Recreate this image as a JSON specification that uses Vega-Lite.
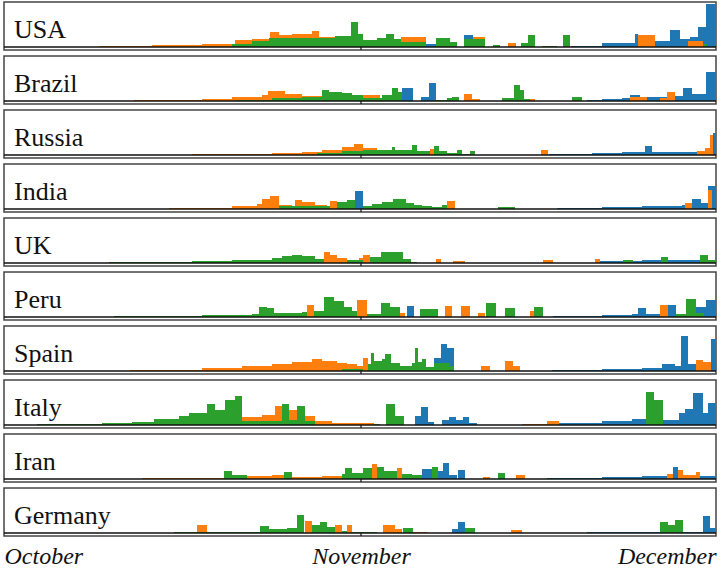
{
  "$schema": "https://vega.github.io/schema/vega-lite/v6.json",
  "padding": {"left": 2, "top": 1, "right": 6, "bottom": 0},
  "background": "white",
  "data": {"values": [
    {"c":"USA","s":"b","a":424,"b":434,"v":3},{"c":"USA","s":"b","a":462,"b":471,"v":12},{"c":"USA","s":"b","a":569,"b":600,"v":1},{"c":"USA","s":"b","a":600,"b":633,"v":4},{"c":"USA","s":"b","a":633,"b":636,"v":13},{"c":"USA","s":"b","a":653,"b":668,"v":6},{"c":"USA","s":"b","a":668,"b":678,"v":17},{"c":"USA","s":"b","a":678,"b":688,"v":8},{"c":"USA","s":"b","a":688,"b":696,"v":10},{"c":"USA","s":"b","a":696,"b":704,"v":20},{"c":"USA","s":"b","a":704,"b":714,"v":43},
    {"c":"USA","s":"o","a":97,"b":150,"v":1},{"c":"USA","s":"o","a":150,"b":200,"v":2},{"c":"USA","s":"o","a":200,"b":233,"v":3},{"c":"USA","s":"o","a":233,"b":250,"v":7},{"c":"USA","s":"o","a":250,"b":268,"v":8},{"c":"USA","s":"o","a":268,"b":277,"v":15},{"c":"USA","s":"o","a":277,"b":290,"v":12},{"c":"USA","s":"o","a":290,"b":310,"v":13},{"c":"USA","s":"o","a":310,"b":317,"v":16},{"c":"USA","s":"o","a":317,"b":333,"v":10},{"c":"USA","s":"o","a":399,"b":424,"v":10},{"c":"USA","s":"o","a":471,"b":483,"v":10},{"c":"USA","s":"o","a":506,"b":514,"v":4},{"c":"USA","s":"o","a":636,"b":653,"v":12},{"c":"USA","s":"o","a":686,"b":701,"v":6},
    {"c":"USA","s":"g","a":230,"b":250,"v":3},{"c":"USA","s":"g","a":250,"b":267,"v":6},{"c":"USA","s":"g","a":267,"b":300,"v":9},{"c":"USA","s":"g","a":300,"b":333,"v":9},{"c":"USA","s":"g","a":333,"b":349,"v":11},{"c":"USA","s":"g","a":349,"b":356,"v":25},{"c":"USA","s":"g","a":356,"b":361,"v":13},{"c":"USA","s":"g","a":361,"b":375,"v":7},{"c":"USA","s":"g","a":375,"b":384,"v":9},{"c":"USA","s":"g","a":384,"b":392,"v":13},{"c":"USA","s":"g","a":392,"b":399,"v":8},{"c":"USA","s":"g","a":399,"b":424,"v":5},{"c":"USA","s":"g","a":434,"b":448,"v":9},{"c":"USA","s":"g","a":448,"b":455,"v":5},{"c":"USA","s":"g","a":462,"b":483,"v":8},{"c":"USA","s":"g","a":491,"b":498,"v":2},{"c":"USA","s":"g","a":519,"b":526,"v":4},{"c":"USA","s":"g","a":526,"b":533,"v":12},{"c":"USA","s":"g","a":540,"b":555,"v":1},{"c":"USA","s":"g","a":561,"b":568,"v":12},{"c":"USA","s":"g","a":701,"b":705,"v":3},

    {"c":"Brazil","s":"b","a":400,"b":411,"v":13},{"c":"Brazil","s":"b","a":419,"b":427,"v":4},{"c":"Brazil","s":"b","a":427,"b":434,"v":18},{"c":"Brazil","s":"b","a":585,"b":600,"v":1},{"c":"Brazil","s":"b","a":600,"b":620,"v":2},{"c":"Brazil","s":"b","a":620,"b":628,"v":3},{"c":"Brazil","s":"b","a":628,"b":638,"v":6},{"c":"Brazil","s":"b","a":643,"b":665,"v":4},{"c":"Brazil","s":"b","a":673,"b":681,"v":5},{"c":"Brazil","s":"b","a":681,"b":690,"v":13},{"c":"Brazil","s":"b","a":690,"b":704,"v":7},{"c":"Brazil","s":"b","a":704,"b":714,"v":29},
    {"c":"Brazil","s":"o","a":132,"b":200,"v":1},{"c":"Brazil","s":"o","a":200,"b":230,"v":2},{"c":"Brazil","s":"o","a":230,"b":260,"v":4},{"c":"Brazil","s":"o","a":260,"b":266,"v":6},{"c":"Brazil","s":"o","a":266,"b":283,"v":10},{"c":"Brazil","s":"o","a":283,"b":300,"v":7},{"c":"Brazil","s":"o","a":300,"b":330,"v":5},{"c":"Brazil","s":"o","a":330,"b":361,"v":4},{"c":"Brazil","s":"o","a":361,"b":378,"v":6},{"c":"Brazil","s":"o","a":394,"b":400,"v":8},{"c":"Brazil","s":"o","a":462,"b":470,"v":7},{"c":"Brazil","s":"o","a":470,"b":478,"v":2},{"c":"Brazil","s":"o","a":528,"b":533,"v":2},{"c":"Brazil","s":"o","a":628,"b":645,"v":4},{"c":"Brazil","s":"o","a":658,"b":665,"v":3},{"c":"Brazil","s":"o","a":665,"b":673,"v":9},
    {"c":"Brazil","s":"g","a":233,"b":270,"v":1},{"c":"Brazil","s":"g","a":270,"b":300,"v":3},{"c":"Brazil","s":"g","a":300,"b":320,"v":4},{"c":"Brazil","s":"g","a":320,"b":327,"v":11},{"c":"Brazil","s":"g","a":327,"b":340,"v":9},{"c":"Brazil","s":"g","a":340,"b":350,"v":8},{"c":"Brazil","s":"g","a":350,"b":361,"v":6},{"c":"Brazil","s":"g","a":361,"b":380,"v":3},{"c":"Brazil","s":"g","a":380,"b":390,"v":6},{"c":"Brazil","s":"g","a":390,"b":396,"v":13},{"c":"Brazil","s":"g","a":396,"b":400,"v":9},{"c":"Brazil","s":"g","a":434,"b":445,"v":1},{"c":"Brazil","s":"g","a":445,"b":450,"v":3},{"c":"Brazil","s":"g","a":450,"b":457,"v":4},{"c":"Brazil","s":"g","a":500,"b":512,"v":3},{"c":"Brazil","s":"g","a":512,"b":518,"v":16},{"c":"Brazil","s":"g","a":518,"b":522,"v":11},{"c":"Brazil","s":"g","a":522,"b":528,"v":2},{"c":"Brazil","s":"g","a":570,"b":580,"v":4},

    {"c":"Russia","s":"b","a":547,"b":590,"v":1},{"c":"Russia","s":"b","a":590,"b":620,"v":2},{"c":"Russia","s":"b","a":620,"b":643,"v":3},{"c":"Russia","s":"b","a":643,"b":650,"v":9},{"c":"Russia","s":"b","a":650,"b":711,"v":3},{"c":"Russia","s":"b","a":711,"b":714,"v":22},
    {"c":"Russia","s":"o","a":190,"b":270,"v":1},{"c":"Russia","s":"o","a":270,"b":300,"v":2},{"c":"Russia","s":"o","a":300,"b":320,"v":3},{"c":"Russia","s":"o","a":320,"b":340,"v":5},{"c":"Russia","s":"o","a":340,"b":352,"v":8},{"c":"Russia","s":"o","a":352,"b":361,"v":11},{"c":"Russia","s":"o","a":361,"b":375,"v":7},{"c":"Russia","s":"o","a":428,"b":432,"v":6},{"c":"Russia","s":"o","a":539,"b":546,"v":5},{"c":"Russia","s":"o","a":695,"b":703,"v":4},{"c":"Russia","s":"o","a":703,"b":708,"v":7},{"c":"Russia","s":"o","a":708,"b":711,"v":20},
    {"c":"Russia","s":"g","a":315,"b":340,"v":2},{"c":"Russia","s":"g","a":340,"b":361,"v":4},{"c":"Russia","s":"g","a":361,"b":390,"v":5},{"c":"Russia","s":"g","a":390,"b":393,"v":8},{"c":"Russia","s":"g","a":393,"b":410,"v":5},{"c":"Russia","s":"g","a":410,"b":415,"v":10},{"c":"Russia","s":"g","a":415,"b":428,"v":4},{"c":"Russia","s":"g","a":432,"b":437,"v":9},{"c":"Russia","s":"g","a":437,"b":445,"v":4},{"c":"Russia","s":"g","a":445,"b":455,"v":2},{"c":"Russia","s":"g","a":455,"b":460,"v":5},{"c":"Russia","s":"g","a":460,"b":468,"v":1},{"c":"Russia","s":"g","a":468,"b":473,"v":4},

    {"c":"India","s":"b","a":353,"b":361,"v":18},{"c":"India","s":"b","a":555,"b":600,"v":1},{"c":"India","s":"b","a":600,"b":640,"v":2},{"c":"India","s":"b","a":640,"b":680,"v":3},{"c":"India","s":"b","a":680,"b":690,"v":4},{"c":"India","s":"b","a":690,"b":699,"v":10},{"c":"India","s":"b","a":699,"b":706,"v":6},{"c":"India","s":"b","a":706,"b":714,"v":23},
    {"c":"India","s":"o","a":167,"b":230,"v":1},{"c":"India","s":"o","a":230,"b":255,"v":3},{"c":"India","s":"o","a":255,"b":260,"v":5},{"c":"India","s":"o","a":260,"b":268,"v":10},{"c":"India","s":"o","a":268,"b":277,"v":13},{"c":"India","s":"o","a":277,"b":290,"v":4},{"c":"India","s":"o","a":293,"b":300,"v":9},{"c":"India","s":"o","a":300,"b":313,"v":7},{"c":"India","s":"o","a":313,"b":325,"v":4},{"c":"India","s":"o","a":328,"b":335,"v":8},{"c":"India","s":"o","a":445,"b":453,"v":8},{"c":"India","s":"o","a":683,"b":690,"v":6},{"c":"India","s":"o","a":706,"b":710,"v":19},
    {"c":"India","s":"g","a":277,"b":300,"v":3},{"c":"India","s":"g","a":300,"b":328,"v":3},{"c":"India","s":"g","a":335,"b":345,"v":7},{"c":"India","s":"g","a":345,"b":353,"v":9},{"c":"India","s":"g","a":361,"b":370,"v":3},{"c":"India","s":"g","a":370,"b":380,"v":5},{"c":"India","s":"g","a":380,"b":391,"v":7},{"c":"India","s":"g","a":391,"b":404,"v":10},{"c":"India","s":"g","a":404,"b":412,"v":6},{"c":"India","s":"g","a":412,"b":420,"v":4},{"c":"India","s":"g","a":420,"b":430,"v":3},{"c":"India","s":"g","a":430,"b":440,"v":2},{"c":"India","s":"g","a":440,"b":445,"v":4},{"c":"India","s":"g","a":496,"b":513,"v":2},

    {"c":"UK","s":"b","a":598,"b":640,"v":2},{"c":"UK","s":"b","a":640,"b":660,"v":3},{"c":"UK","s":"b","a":666,"b":698,"v":3},{"c":"UK","s":"b","a":706,"b":714,"v":2},
    {"c":"UK","s":"o","a":322,"b":328,"v":11},{"c":"UK","s":"o","a":328,"b":335,"v":8},{"c":"UK","s":"o","a":335,"b":345,"v":5},{"c":"UK","s":"o","a":357,"b":361,"v":5},{"c":"UK","s":"o","a":361,"b":368,"v":8},{"c":"UK","s":"o","a":434,"b":439,"v":4},{"c":"UK","s":"o","a":451,"b":463,"v":2},{"c":"UK","s":"o","a":541,"b":551,"v":3},{"c":"UK","s":"o","a":593,"b":598,"v":4},
    {"c":"UK","s":"g","a":107,"b":190,"v":1},{"c":"UK","s":"g","a":190,"b":230,"v":2},{"c":"UK","s":"g","a":230,"b":270,"v":3},{"c":"UK","s":"g","a":270,"b":280,"v":5},{"c":"UK","s":"g","a":280,"b":290,"v":7},{"c":"UK","s":"g","a":290,"b":300,"v":8},{"c":"UK","s":"g","a":300,"b":313,"v":7},{"c":"UK","s":"g","a":313,"b":322,"v":4},{"c":"UK","s":"g","a":345,"b":361,"v":3},{"c":"UK","s":"g","a":368,"b":379,"v":6},{"c":"UK","s":"g","a":379,"b":401,"v":11},{"c":"UK","s":"g","a":401,"b":409,"v":4},{"c":"UK","s":"g","a":409,"b":415,"v":1},{"c":"UK","s":"g","a":621,"b":631,"v":3},{"c":"UK","s":"g","a":659,"b":666,"v":6},{"c":"UK","s":"g","a":698,"b":706,"v":8},{"c":"UK","s":"g","a":706,"b":714,"v":3},

    {"c":"Peru","s":"b","a":405,"b":412,"v":11},{"c":"Peru","s":"b","a":551,"b":600,"v":1},{"c":"Peru","s":"b","a":600,"b":630,"v":2},{"c":"Peru","s":"b","a":630,"b":636,"v":3},{"c":"Peru","s":"b","a":636,"b":644,"v":9},{"c":"Peru","s":"b","a":644,"b":658,"v":3},{"c":"Peru","s":"b","a":666,"b":674,"v":12},{"c":"Peru","s":"b","a":674,"b":694,"v":3},{"c":"Peru","s":"b","a":694,"b":704,"v":10},{"c":"Peru","s":"b","a":704,"b":714,"v":17},
    {"c":"Peru","s":"o","a":305,"b":312,"v":12},{"c":"Peru","s":"o","a":355,"b":365,"v":17},{"c":"Peru","s":"o","a":398,"b":403,"v":4},{"c":"Peru","s":"o","a":443,"b":450,"v":11},{"c":"Peru","s":"o","a":459,"b":468,"v":11},{"c":"Peru","s":"o","a":476,"b":483,"v":4},{"c":"Peru","s":"o","a":528,"b":532,"v":6},{"c":"Peru","s":"o","a":658,"b":666,"v":12},
    {"c":"Peru","s":"g","a":112,"b":200,"v":1},{"c":"Peru","s":"g","a":200,"b":250,"v":2},{"c":"Peru","s":"g","a":250,"b":257,"v":3},{"c":"Peru","s":"g","a":257,"b":265,"v":10},{"c":"Peru","s":"g","a":265,"b":272,"v":9},{"c":"Peru","s":"g","a":272,"b":300,"v":4},{"c":"Peru","s":"g","a":300,"b":305,"v":5},{"c":"Peru","s":"g","a":312,"b":322,"v":6},{"c":"Peru","s":"g","a":322,"b":332,"v":20},{"c":"Peru","s":"g","a":332,"b":342,"v":16},{"c":"Peru","s":"g","a":342,"b":350,"v":10},{"c":"Peru","s":"g","a":350,"b":355,"v":6},{"c":"Peru","s":"g","a":365,"b":379,"v":3},{"c":"Peru","s":"g","a":379,"b":388,"v":14},{"c":"Peru","s":"g","a":388,"b":398,"v":10},{"c":"Peru","s":"g","a":418,"b":436,"v":8},{"c":"Peru","s":"g","a":484,"b":494,"v":14},{"c":"Peru","s":"g","a":503,"b":513,"v":9},{"c":"Peru","s":"g","a":532,"b":541,"v":10},{"c":"Peru","s":"g","a":674,"b":684,"v":3},{"c":"Peru","s":"g","a":684,"b":694,"v":18},{"c":"Peru","s":"g","a":694,"b":702,"v":4},

    {"c":"Spain","s":"b","a":432,"b":439,"v":13},{"c":"Spain","s":"b","a":439,"b":445,"v":27},{"c":"Spain","s":"b","a":445,"b":452,"v":23},{"c":"Spain","s":"b","a":550,"b":600,"v":1},{"c":"Spain","s":"b","a":600,"b":640,"v":2},{"c":"Spain","s":"b","a":640,"b":660,"v":3},{"c":"Spain","s":"b","a":660,"b":673,"v":7},{"c":"Spain","s":"b","a":673,"b":679,"v":5},{"c":"Spain","s":"b","a":679,"b":686,"v":35},{"c":"Spain","s":"b","a":686,"b":694,"v":7},{"c":"Spain","s":"b","a":709,"b":714,"v":32},
    {"c":"Spain","s":"o","a":128,"b":200,"v":1},{"c":"Spain","s":"o","a":200,"b":240,"v":3},{"c":"Spain","s":"o","a":240,"b":270,"v":5},{"c":"Spain","s":"o","a":270,"b":290,"v":7},{"c":"Spain","s":"o","a":290,"b":310,"v":9},{"c":"Spain","s":"o","a":310,"b":320,"v":12},{"c":"Spain","s":"o","a":320,"b":335,"v":10},{"c":"Spain","s":"o","a":335,"b":345,"v":8},{"c":"Spain","s":"o","a":345,"b":355,"v":7},{"c":"Spain","s":"o","a":355,"b":361,"v":5},{"c":"Spain","s":"o","a":361,"b":366,"v":13},{"c":"Spain","s":"o","a":479,"b":488,"v":5},{"c":"Spain","s":"o","a":503,"b":511,"v":10},{"c":"Spain","s":"o","a":511,"b":518,"v":5},{"c":"Spain","s":"o","a":694,"b":701,"v":11},{"c":"Spain","s":"o","a":701,"b":709,"v":9},
    {"c":"Spain","s":"g","a":340,"b":361,"v":2},{"c":"Spain","s":"g","a":366,"b":369,"v":7},{"c":"Spain","s":"g","a":369,"b":372,"v":18},{"c":"Spain","s":"g","a":372,"b":380,"v":10},{"c":"Spain","s":"g","a":380,"b":383,"v":12},{"c":"Spain","s":"g","a":383,"b":389,"v":17},{"c":"Spain","s":"g","a":389,"b":398,"v":8},{"c":"Spain","s":"g","a":398,"b":410,"v":5},{"c":"Spain","s":"g","a":410,"b":413,"v":8},{"c":"Spain","s":"g","a":413,"b":416,"v":23},{"c":"Spain","s":"g","a":416,"b":420,"v":9},{"c":"Spain","s":"g","a":420,"b":424,"v":12},{"c":"Spain","s":"g","a":424,"b":432,"v":4},{"c":"Spain","s":"g","a":432,"b":448,"v":8},{"c":"Spain","s":"g","a":448,"b":452,"v":5},

    {"c":"Italy","s":"b","a":413,"b":419,"v":9},{"c":"Italy","s":"b","a":419,"b":426,"v":18},{"c":"Italy","s":"b","a":426,"b":432,"v":3},{"c":"Italy","s":"b","a":440,"b":447,"v":5},{"c":"Italy","s":"b","a":447,"b":454,"v":8},{"c":"Italy","s":"b","a":454,"b":461,"v":5},{"c":"Italy","s":"b","a":461,"b":467,"v":8},{"c":"Italy","s":"b","a":467,"b":475,"v":2},{"c":"Italy","s":"b","a":557,"b":600,"v":2},{"c":"Italy","s":"b","a":600,"b":630,"v":4},{"c":"Italy","s":"b","a":630,"b":644,"v":6},{"c":"Italy","s":"b","a":644,"b":661,"v":8},{"c":"Italy","s":"b","a":661,"b":677,"v":5},{"c":"Italy","s":"b","a":677,"b":683,"v":12},{"c":"Italy","s":"b","a":683,"b":691,"v":16},{"c":"Italy","s":"b","a":691,"b":701,"v":32},{"c":"Italy","s":"b","a":701,"b":706,"v":12},{"c":"Italy","s":"b","a":706,"b":714,"v":22},
    {"c":"Italy","s":"o","a":240,"b":260,"v":8},{"c":"Italy","s":"o","a":260,"b":273,"v":10},{"c":"Italy","s":"o","a":273,"b":287,"v":19},{"c":"Italy","s":"o","a":287,"b":295,"v":15},{"c":"Italy","s":"o","a":303,"b":313,"v":9},{"c":"Italy","s":"o","a":313,"b":330,"v":4},{"c":"Italy","s":"o","a":330,"b":361,"v":2},{"c":"Italy","s":"o","a":361,"b":372,"v":2},{"c":"Italy","s":"o","a":520,"b":545,"v":1},{"c":"Italy","s":"o","a":545,"b":557,"v":4},
    {"c":"Italy","s":"g","a":35,"b":100,"v":1},{"c":"Italy","s":"g","a":100,"b":130,"v":2},{"c":"Italy","s":"g","a":130,"b":152,"v":3},{"c":"Italy","s":"g","a":152,"b":177,"v":6},{"c":"Italy","s":"g","a":177,"b":187,"v":9},{"c":"Italy","s":"g","a":187,"b":205,"v":12},{"c":"Italy","s":"g","a":205,"b":213,"v":21},{"c":"Italy","s":"g","a":213,"b":223,"v":15},{"c":"Italy","s":"g","a":223,"b":233,"v":25},{"c":"Italy","s":"g","a":233,"b":240,"v":29},{"c":"Italy","s":"g","a":240,"b":280,"v":4},{"c":"Italy","s":"g","a":280,"b":287,"v":21},{"c":"Italy","s":"g","a":287,"b":295,"v":5},{"c":"Italy","s":"g","a":295,"b":303,"v":19},{"c":"Italy","s":"g","a":303,"b":313,"v":4},{"c":"Italy","s":"g","a":372,"b":378,"v":1},{"c":"Italy","s":"g","a":384,"b":393,"v":21},{"c":"Italy","s":"g","a":393,"b":402,"v":9},{"c":"Italy","s":"g","a":644,"b":652,"v":33},{"c":"Italy","s":"g","a":652,"b":661,"v":25},

    {"c":"Iran","s":"b","a":420,"b":430,"v":10},{"c":"Iran","s":"b","a":436,"b":441,"v":8},{"c":"Iran","s":"b","a":441,"b":447,"v":16},{"c":"Iran","s":"b","a":447,"b":455,"v":4},{"c":"Iran","s":"b","a":456,"b":463,"v":9},{"c":"Iran","s":"b","a":545,"b":600,"v":1},{"c":"Iran","s":"b","a":600,"b":640,"v":2},{"c":"Iran","s":"b","a":640,"b":671,"v":3},{"c":"Iran","s":"b","a":671,"b":676,"v":12},{"c":"Iran","s":"b","a":698,"b":714,"v":3},
    {"c":"Iran","s":"o","a":140,"b":222,"v":1},{"c":"Iran","s":"o","a":245,"b":270,"v":3},{"c":"Iran","s":"o","a":270,"b":282,"v":4},{"c":"Iran","s":"o","a":290,"b":320,"v":2},{"c":"Iran","s":"o","a":320,"b":340,"v":3},{"c":"Iran","s":"o","a":370,"b":375,"v":15},{"c":"Iran","s":"o","a":395,"b":400,"v":11},{"c":"Iran","s":"o","a":481,"b":488,"v":2},{"c":"Iran","s":"o","a":514,"b":523,"v":4},{"c":"Iran","s":"o","a":665,"b":671,"v":5},{"c":"Iran","s":"o","a":676,"b":681,"v":9},{"c":"Iran","s":"o","a":681,"b":694,"v":4},{"c":"Iran","s":"o","a":694,"b":698,"v":7},
    {"c":"Iran","s":"g","a":222,"b":230,"v":8},{"c":"Iran","s":"g","a":230,"b":245,"v":4},{"c":"Iran","s":"g","a":282,"b":290,"v":7},{"c":"Iran","s":"g","a":340,"b":343,"v":5},{"c":"Iran","s":"g","a":343,"b":350,"v":11},{"c":"Iran","s":"g","a":350,"b":361,"v":6},{"c":"Iran","s":"g","a":361,"b":370,"v":11},{"c":"Iran","s":"g","a":375,"b":382,"v":12},{"c":"Iran","s":"g","a":382,"b":395,"v":8},{"c":"Iran","s":"g","a":400,"b":410,"v":5},{"c":"Iran","s":"g","a":410,"b":420,"v":4},{"c":"Iran","s":"g","a":430,"b":436,"v":12},{"c":"Iran","s":"g","a":496,"b":503,"v":6},

    {"c":"Germany","s":"b","a":450,"b":456,"v":4},{"c":"Germany","s":"b","a":456,"b":463,"v":11},{"c":"Germany","s":"b","a":585,"b":658,"v":1},{"c":"Germany","s":"b","a":681,"b":701,"v":1},{"c":"Germany","s":"b","a":701,"b":708,"v":17},{"c":"Germany","s":"b","a":708,"b":714,"v":5},
    {"c":"Germany","s":"o","a":195,"b":205,"v":8},{"c":"Germany","s":"o","a":303,"b":310,"v":12},{"c":"Germany","s":"o","a":333,"b":340,"v":8},{"c":"Germany","s":"o","a":345,"b":350,"v":8},{"c":"Germany","s":"o","a":381,"b":393,"v":8},{"c":"Germany","s":"o","a":393,"b":400,"v":4},{"c":"Germany","s":"o","a":411,"b":425,"v":1},{"c":"Germany","s":"o","a":509,"b":520,"v":3},
    {"c":"Germany","s":"g","a":172,"b":258,"v":1},{"c":"Germany","s":"g","a":258,"b":267,"v":7},{"c":"Germany","s":"g","a":267,"b":285,"v":4},{"c":"Germany","s":"g","a":285,"b":295,"v":5},{"c":"Germany","s":"g","a":295,"b":302,"v":18},{"c":"Germany","s":"g","a":310,"b":318,"v":8},{"c":"Germany","s":"g","a":318,"b":325,"v":11},{"c":"Germany","s":"g","a":325,"b":333,"v":6},{"c":"Germany","s":"g","a":340,"b":345,"v":2},{"c":"Germany","s":"g","a":350,"b":375,"v":1},{"c":"Germany","s":"g","a":401,"b":411,"v":5},{"c":"Germany","s":"g","a":463,"b":473,"v":5},{"c":"Germany","s":"g","a":658,"b":666,"v":11},{"c":"Germany","s":"g","a":666,"b":673,"v":8},{"c":"Germany","s":"g","a":673,"b":681,"v":13}
  ]},
  "facet": {
    "row": {"field": "c", "type": "nominal", "title": null,
      "sort": ["USA","Brazil","Russia","India","UK","Peru","Spain","Italy","Iran","Germany"],
      "header": {"labels": false, "title": null, "labelPadding": 0, "titlePadding": 0}}
  },
  "spacing": {"row": 3},
  "spec": {
    "width": 712,
    "height": 48,
    "layer": [
      {
        "encoding": {
          "x": {"field": "a", "type": "quantitative",
            "scale": {"domain": [2, 714], "nice": false, "zero": false},
            "axis": {"values": [2, 359, 714],
              "labelExpr": "datum.value < 100 ? 'October' : (datum.value < 600 ? 'November' : 'December')",
              "labelFlush": true, "domain": false, "ticks": false, "grid": false, "title": null,
              "labelFont": "Liberation Serif", "labelFontStyle": "italic", "labelFontSize": 24,
              "labelColor": "#111", "labelPadding": 6}},
          "x2": {"field": "b"},
          "y": {"field": "v", "type": "quantitative", "scale": {"domain": [-3, 45], "nice": false}, "axis": null},
          "y2": {"datum": 0},
          "color": {"field": "s", "type": "nominal",
            "scale": {"domain": ["b", "o", "g"], "range": ["#1f77b4", "#ff7f0e", "#2ca02c"]}, "legend": null}
        },
        "layer": [
          {"transform": [{"filter": "datum.s == 'b'"}], "mark": {"type": "rect"}},
          {"transform": [{"filter": "datum.s == 'o'"}], "mark": {"type": "rect"}},
          {"transform": [{"filter": "datum.s == 'g'"}], "mark": {"type": "rect"}}
        ]
      },
      {
        "transform": [{"aggregate": [{"op": "count", "as": "n"}], "groupby": ["c"]}],
        "layer": [
          {"mark": {"type": "rule", "color": "#111", "strokeWidth": 1.5},
           "encoding": {"y": {"datum": 0}}},
          {"mark": {"type": "rule", "color": "#111", "strokeWidth": 1.2},
           "encoding": {"x": {"datum": 359}, "y": {"datum": -3}, "y2": {"datum": 0}}},
          {"mark": {"type": "text", "font": "Liberation Serif", "fontSize": 26, "align": "left", "baseline": "alphabetic", "color": "#111"},
           "encoding": {"text": {"field": "c"}, "x": {"datum": 12}, "y": {"datum": 9}}}
        ]
      }
    ]
  },
  "config": {
    "view": {"stroke": "#444", "strokeWidth": 1.5}
  }
}
